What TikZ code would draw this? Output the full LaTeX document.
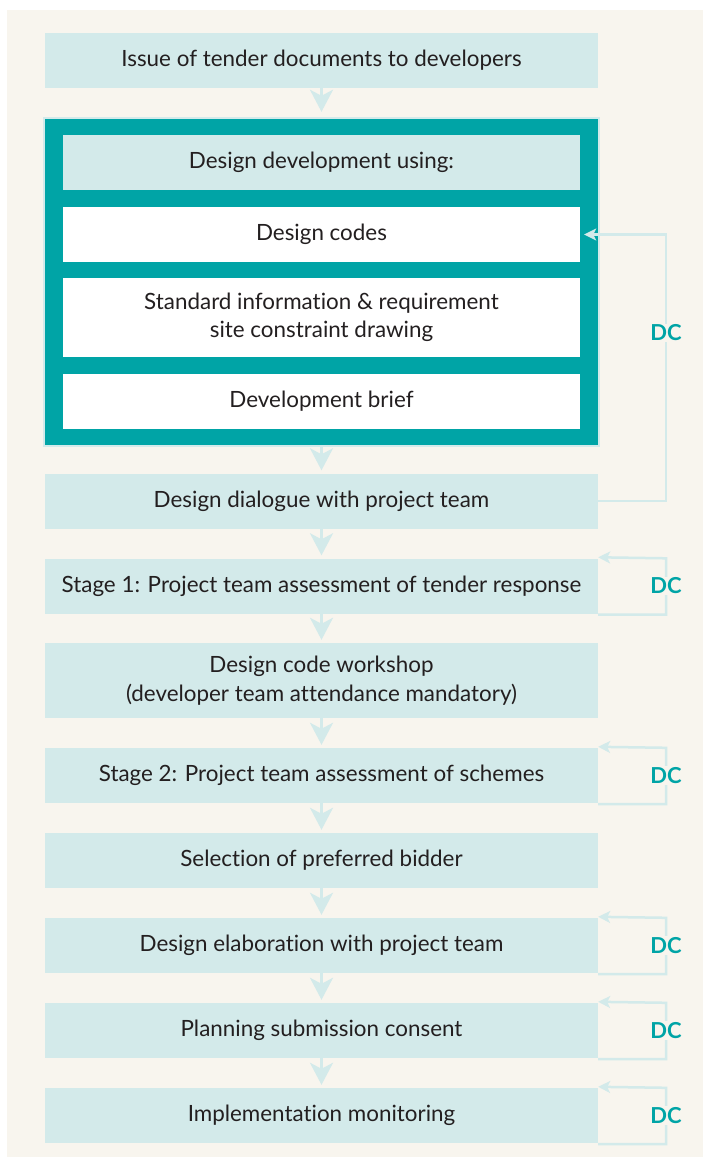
\documentclass[tikz,border=0pt]{standalone}
\usepackage{fontspec}
\setmainfont[Ligatures={NoCommon}]{Lato}
\usetikzlibrary{arrows.meta}
\definecolor{cream}{HTML}{F8F5EE}
\definecolor{pale}{HTML}{D3EAEA}
\definecolor{teal}{HTML}{00A4A6}
\definecolor{ink}{HTML}{231F20}
\begin{document}
\begin{tikzpicture}[x=1pt,y=-1pt,
  box/.style={fill=pale, minimum width=553pt, minimum height=55pt, inner sep=0pt,
    align=center, text=ink, font=\fontsize{22.4}{28.5}\selectfont},
  inbox/.style={box, fill=white, minimum width=517pt},
  flow/.style={draw=pale, line width=3pt, -{Stealth[length=22pt, width=23pt, inset=6pt]}},
  loop/.style={draw=pale, line width=2.5pt, -{Stealth[length=12pt, width=12pt, inset=3pt]}},
  dc/.style={fill=cream, inner sep=1pt, text=teal, font=\fontsize{22}{24}\selectfont\bfseries}]
\useasboundingbox (0,0) rectangle (703,1158);
\fill[cream] (7,10) rectangle (703,1157);

% first step
\node[box] (b1) at (321.5,60.5) {Issue of tender documents to developers};

% design development frame with its inputs
\node[fill=pale, minimum width=557pt, minimum height=330pt, inner sep=0pt] (rim) at (321.5,282) {};
\node[fill=teal, minimum width=553pt, minimum height=326pt, inner sep=0pt] (frame) at (321.5,282) {};
\node[box, minimum width=517pt] (dev) at (321.5,162.5) {Design development using:};
\node[inbox] (codes) at (321.5,234.5) {Design codes};
\node[inbox, minimum height=79pt] (std) at (321.5,317.5) {Standard information \& requirement\\site constraint drawing};
\node[inbox] (brief) at (321.5,401.5) {Development brief};

% main sequence
\node[box] (dia) at (321.5,501) {Design dialogue with project team};
\node[box] (s1) at (321.5,586) {Stage 1: Project team assessment of tender response};
\node[box, minimum height=75pt] (ws) at (321.5,680.5) {Design code workshop\\(developer team attendance mandatory)};
\node[box] (s2) at (321.5,775.5) {Stage 2: Project team assessment of schemes};
\node[box] (sel) at (321.5,860.5) {Selection of preferred bidder};
\node[box] (elab) at (321.5,945.5) {Design elaboration with project team};
\node[box] (plan) at (321.5,1030.5) {Planning submission consent};
\node[box] (impl) at (321.5,1115.5) {Implementation monitoring};

% downward arrows
\draw[flow, shorten >=5pt] (b1.south) -- (rim.north);
\draw[flow, shorten >=3pt] (rim.south) -- (dia.north);
\foreach \a/\b in {dia/s1, s1/ws, ws/s2, s2/sel, sel/elab, elab/plan, plan/impl}
  \draw[flow, shorten >=3pt] (\a.south) -- (\b.north);

% feedback from the design dialogue to the design codes
\coordinate (rx) at (666,0);
\draw[loop] (dia.east) -| (rx |- codes.east) -- ([xshift=4pt]codes.east);
\node[dc] at (666,333) {DC};

% design-code checks on the later stages
\foreach \n in {s1, s2, elab, plan, impl} {
  \draw[loop] ([yshift=-1pt]\n.south east) -| (rx |- \n.north east) -- ([yshift=1pt]\n.north east);
  \node[dc] at (rx |- \n.east) {DC};
}
\end{tikzpicture}
\end{document}
